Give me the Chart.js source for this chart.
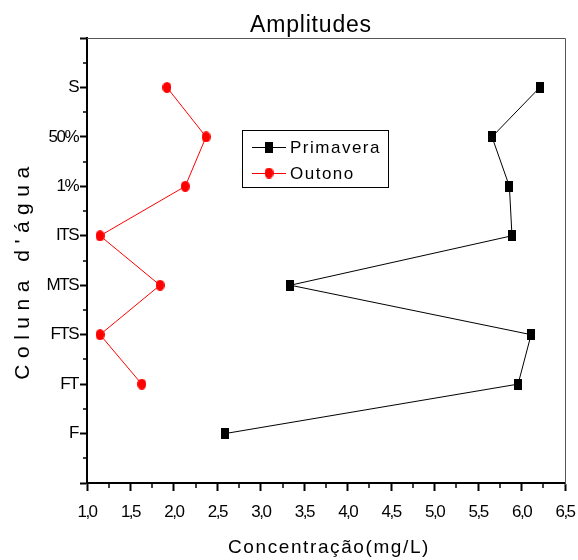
<!DOCTYPE html>
<html>
<head>
<meta charset="utf-8">
<script src="https://cdn.jsdelivr.net/npm/chart.js"></script>
<style>
  html, body { margin: 0; padding: 0; background: #fff; }
  #wrap { width: 578px; height: 560px; }
</style>
</head>
<body>
<div id="wrap"><canvas id="chart" width="578" height="560"></canvas></div>
<script>
// depth levels, from the bottom of the water column up
const categories = ["F", "FT", "FTS", "MTS", "ITS", "1%", "50%", "S"];
const primavera = [2.59, 5.96, 6.11, 3.34, 5.89, 5.86, 5.66, 6.21];
const outono = [null, 1.63, 1.15, 1.84, 1.15, 2.13, 2.37, 1.92];
const xTicks = [1.0, 1.5, 2.0, 2.5, 3.0, 3.5, 4.0, 4.5, 5.0, 5.5, 6.0, 6.5];

const FONT = "'Liberation Sans', Arial, sans-serif";

function toPoints(values) {
  return values
    .map((v, i) => (v === null ? null : { x: v, y: i }))
    .filter((p) => p !== null);
}

function markerImage(w, h, color, round) {
  const c = document.createElement("canvas");
  c.width = w;
  c.height = h;
  const ctx = c.getContext("2d");
  ctx.fillStyle = color;
  if (round) {
    ctx.beginPath();
    ctx.ellipse(w / 2, h / 2, w / 2, h / 2, 0, 0, Math.PI * 2);
    ctx.fill();
  } else {
    ctx.fillRect(0, 0, w, h);
  }
  return c;
}

const squareMark = markerImage(8, 11, "#000", false);
const dotMark = markerImage(9, 11, "#ff0000", true);

// Origin-style narrow tick labels
const narrowText = {
  id: "narrowText",
  beforeDraw(chart) {
    chart.ctx.letterSpacing = "-1.5px";
  },
};

// minor ticks, plot frame, titles and the inset legend
const decorations = {
  id: "decorations",
  afterDraw(chart) {
    const { ctx, chartArea } = chart;
    const xs = chart.scales.x;
    const ys = chart.scales.y;
    ctx.save();
    ctx.strokeStyle = "#000";
    ctx.lineWidth = 1.5;
    for (let v = xTicks[0] + 0.25; v < xTicks[xTicks.length - 1]; v += 0.5) {
      const px = Math.round(xs.getPixelForValue(v));
      ctx.beginPath();
      ctx.moveTo(px, chartArea.bottom);
      ctx.lineTo(px, chartArea.bottom + 5);
      ctx.stroke();
    }
    for (let v = -0.5; v < categories.length; v += 1) {
      const py = Math.round(ys.getPixelForValue(v));
      ctx.beginPath();
      ctx.moveTo(chartArea.left - 4, py);
      ctx.lineTo(chartArea.left, py);
      ctx.stroke();
    }

    ctx.strokeStyle = "#555";
    ctx.lineWidth = 1;
    ctx.beginPath();
    ctx.moveTo(chartArea.left, chartArea.top + 0.5);
    ctx.lineTo(chartArea.right + 0.5, chartArea.top + 0.5);
    ctx.lineTo(chartArea.right + 0.5, chartArea.bottom + 2);
    ctx.stroke();

    // titles
    ctx.fillStyle = "#000";
    ctx.textAlign = "center";
    ctx.textBaseline = "alphabetic";
    ctx.font = "23px " + FONT;
    ctx.letterSpacing = "0.8px";
    ctx.fillText("Amplitudes", 311, 32);

    ctx.font = "19px " + FONT;
    ctx.letterSpacing = "1.6px";
    ctx.fillText("Concentração(mg/L)", 329, 553);

    ctx.save();
    ctx.translate(29, 270);
    ctx.rotate(-Math.PI / 2);
    ctx.font = "21px " + FONT;
    ctx.letterSpacing = "6.5px";
    ctx.fillText("Coluna d'água", 0, 0);
    ctx.restore();

    // legend box
    const bx = chartArea.left + 155;
    const by = chartArea.top + 92;
    ctx.strokeStyle = "#000";
    ctx.lineWidth = 1;
    ctx.fillStyle = "#fff";
    ctx.fillRect(bx, by, 146, 57);
    ctx.strokeRect(bx + 0.5, by + 0.5, 146, 57);

    const entries = [
      { label: "Primavera", color: "#000", mark: squareMark, dy: 17 },
      { label: "Outono", color: "#ff0000", mark: dotMark, dy: 43 },
    ];
    ctx.font = "17px " + FONT;
    ctx.letterSpacing = "1.5px";
    ctx.textBaseline = "middle";
    ctx.textAlign = "left";
    entries.forEach((e) => {
      const ly = by + e.dy;
      ctx.strokeStyle = e.color;
      ctx.beginPath();
      ctx.moveTo(bx + 10, ly + 0.5);
      ctx.lineTo(bx + 44, ly + 0.5);
      ctx.stroke();
      ctx.drawImage(e.mark, bx + 27 - e.mark.width / 2, ly - e.mark.height / 2);
      ctx.fillStyle = "#000";
      ctx.fillText(e.label, bx + 48, ly + 1);
    });
    ctx.restore();
  },
};

new Chart(document.getElementById("chart"), {
  type: "scatter",
  data: {
    datasets: [
      {
        label: "Primavera",
        data: toPoints(primavera),
        showLine: true,
        borderColor: "#000",
        borderWidth: 1,
        pointStyle: squareMark,
        tension: 0,
      },
      {
        label: "Outono",
        data: toPoints(outono),
        showLine: true,
        borderColor: "#ff0000",
        borderWidth: 1,
        pointStyle: dotMark,
        tension: 0,
      },
    ],
  },
  options: {
    responsive: false,
    animation: false,
    events: [],
    layout: { padding: { left: 0, right: 13, top: 38, bottom: 0 } },
    plugins: {
      legend: { display: false },
      tooltip: { enabled: false },
      title: { display: false },
    },
    scales: {
      x: {
        type: "linear",
        min: xTicks[0],
        max: xTicks[xTicks.length - 1],
        afterFit: (scale) => {
          scale.height = 77;
          scale.paddingLeft = 0;
          scale.paddingRight = 0;
        },
        afterBuildTicks: (scale) => {
          scale.ticks = xTicks.map((v) => ({ value: v }));
        },
        ticks: {
          color: "#000",
          padding: 11,
          maxRotation: 0,
          autoSkip: false,
          font: { family: FONT, size: 17 },
          callback: (v) => Number(v).toFixed(1).replace(".", ","),
        },
        grid: {
          drawOnChartArea: false,
          drawTicks: true,
          tickLength: 8,
          tickColor: "#000",
          tickWidth: 2,
        },
        border: { display: true, color: "#000", width: 2 },
      },
      y: {
        type: "linear",
        min: -1,
        max: categories.length,
        afterFit: (scale) => {
          scale.width = 87;
          scale.paddingTop = 0;
          scale.paddingBottom = 0;
        },
        ticks: {
          stepSize: 1,
          color: "#000",
          padding: 2,
          autoSkip: false,
          font: { family: FONT, size: 17 },
          callback: (v) => categories[v] ?? "",
        },
        grid: {
          drawOnChartArea: false,
          drawTicks: true,
          tickLength: 7,
          tickColor: "#000",
          tickWidth: 2,
        },
        border: { display: true, color: "#000", width: 2 },
      },
    },
  },
  plugins: [narrowText, decorations],
});
</script>
</body>
</html>
